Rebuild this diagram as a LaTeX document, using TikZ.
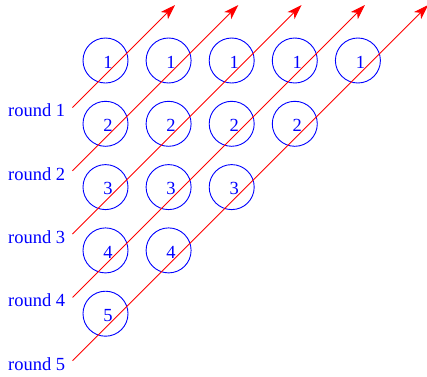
\documentclass[tikz,border=0pt]{standalone}
\usepackage{fontspec}
\setmainfont{Liberation Serif}
\usetikzlibrary{arrows.meta}
\definecolor{fblue}{RGB}{0,0,255}
\definecolor{fred}{RGB}{255,0,0}
\tikzset{
  cell/.style={circle, draw=fblue, line width=0.9bp, minimum size=45bp, inner sep=0pt},
  digit/.style={text=fblue, font=\fontsize{18.5bp}{20bp}\selectfont, inner sep=0pt, anchor=base},
  roundlbl/.style={text=fblue, font=\fontsize{18.5bp}{20bp}\selectfont, inner sep=0pt, anchor=base west},
  diag/.style={draw=fred, line width=0.9bp, -{Stealth[length=15bp, width=10bp, inset=4bp]}}
}
\begin{document}
\begin{tikzpicture}[x=1bp,y=-1bp]
\useasboundingbox (0,0) rectangle (427,377);
% circles
\foreach \r in {1,...,5}{
  \pgfmathtruncatemacro{\nc}{6-\r}
  \foreach \c in {1,...,\nc}{
    \node[cell] (c\r\c) at ({105.5+63.1*(\c-1)},{60.5+63.3*(\r-1)}) {};
    \node[digit] (d\r\c) at ({108+63.1*(\c-1)},{68.3+63.3*(\r-1)}) {\r};
  }
}
% round labels and diagonals
\foreach \k in {1,...,5}{
  \node[roundlbl] (lab\k) at (8,{116.8+63.3*(\k-1)}) {round \k};
  \coordinate (s\k) at (72.5,{107.5+63.3*(\k-1)});
  \coordinate (e\k) at ({175+63.3*(\k-1)},5);
  \draw[diag] (s\k) -- (e\k);
}
\end{tikzpicture}
\end{document}
